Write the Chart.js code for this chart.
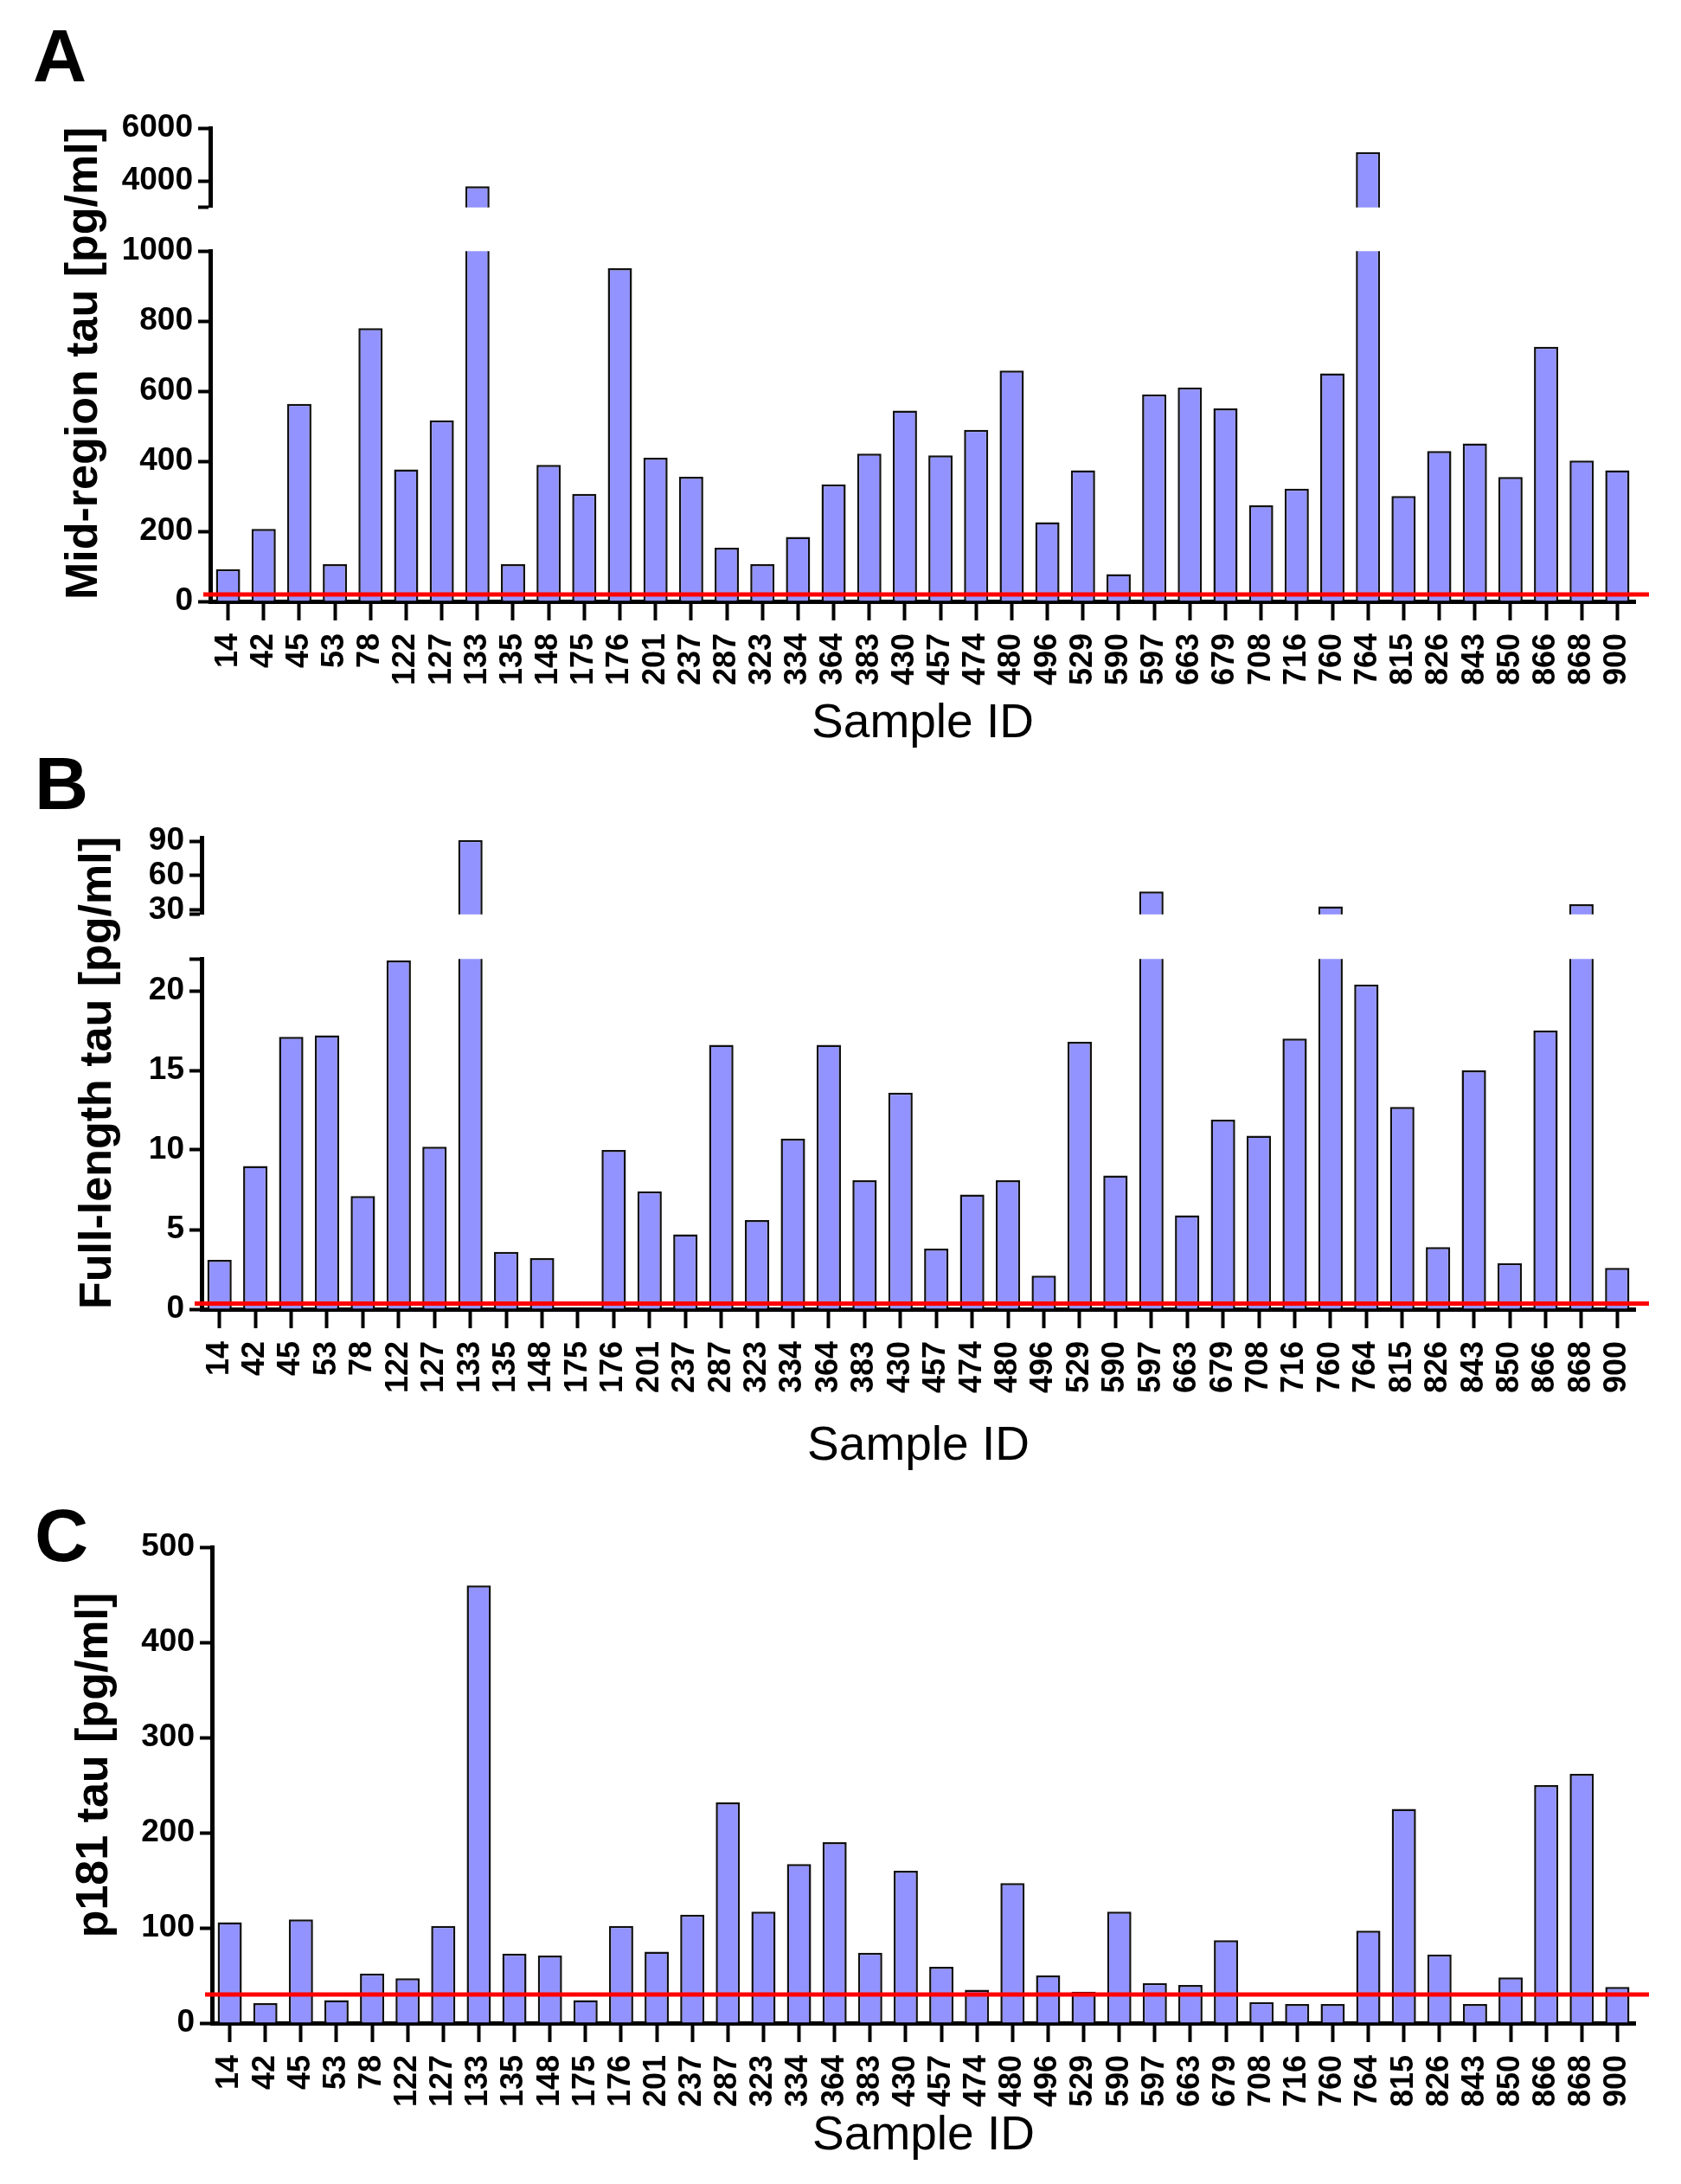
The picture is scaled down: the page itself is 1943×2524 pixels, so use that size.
<!DOCTYPE html>
<html>
  <head>
    <title>Tau levels per sample</title>
    <script src="https://cdn.jsdelivr.net/npm/chart.js@4.4.0/dist/chart.umd.min.js"></script>
    <style>
      body {
        margin: 0;
        background: #fff;
        font-family: "Liberation Sans", Arial, sans-serif;
      }

      #page {
        position: relative;
        width: 1943px;
        height: 2524px;
      }

      canvas {
        position: absolute;
        left: 0;
      }

      .letter {
        position: absolute;
        font-weight: bold;
        font-size: 86px;
        line-height: 1;
      }

      .ytitle {
        position: absolute;
        font-weight: bold;
        font-size: 52px;
        line-height: 1;
        white-space: nowrap;
        transform: translate(-50%, -50%) rotate(-90deg);
      }
    </style>
  </head>
  <body>
    <div id="page">
      <div class="letter" style="left: 38px; top: 21px">A</div>
      <div class="letter" style="left: 40px; top: 862px">B</div>
      <div class="letter" style="left: 40px; top: 1731px">C</div>

      <div class="ytitle" style="left: 94px; top: 420px">Mid-region tau [pg/ml]</div>
      <div class="ytitle" style="left: 110px; top: 1240px">Full-length tau [pg/ml]</div>
      <div class="ytitle" style="left: 106px; top: 2040px">p181 tau [pg/ml]</div>

      <canvas id="a-top" width="1943" height="148" style="top: 120px"></canvas>
      <canvas id="a-bottom" width="1943" height="612" style="top: 262px"></canvas>
      <canvas id="b-top" width="1943" height="145" style="top: 940px"></canvas>
      <canvas id="b-bottom" width="1943" height="629" style="top: 1080px"></canvas>
      <canvas id="c-main" width="1943" height="746" style="top: 1760px"></canvas>
    </div>

    <script>
      const samples = [
        "14", "42", "45", "53", "78", "122", "127", "133", "135", "148",
        "175", "176", "201", "237", "287", "323", "334", "364", "383", "430",
        "457", "474", "480", "496", "529", "590", "597", "663", "679", "708",
        "716", "760", "764", "815", "826", "843", "850", "866", "868", "900",
      ];

      const midRegionTau = [
        92, 207, 564, 106, 780, 377, 517, 3800, 106, 390,
        307, 951, 410, 356, 153, 106, 184, 334, 422, 545,
        417, 490, 659, 226, 374, 78, 591, 611, 551, 274,
        322, 651, 5100, 301, 429, 451, 355, 727, 402, 374,
      ];

      const fullLengthTau = [
        3.1, 9.0, 17.1, 17.2, 7.1, 21.9, 10.2, 91, 3.6, 3.2,
        null, 10.0, 7.4, 4.7, 16.6, 5.6, 10.7, 16.6, 8.1, 13.6,
        3.8, 7.2, 8.1, 2.1, 16.8, 8.4, 46, 5.9, 11.9, 10.9,
        17.0, 33, 20.4, 12.7, 3.9, 15.0, 2.9, 17.5, 35, 2.6,
      ];

      const p181Tau = [
        106, 21, 109, 24, 52, 47, 102, 460, 73, 71,
        24, 102, 75, 114, 232, 117, 167, 190, 74, 160,
        59, 35, 147, 50, 33, 117, 42, 40, 87, 22,
        20, 20, 97, 225, 72, 20, 48, 250, 262, 38,
      ];

      // cut-off lines (red)
      const cutoffMid = 20;
      const cutoffFull = 0.35;
      const cutoffP181 = 30;

      // tick values per axis piece; the unlabeled ones mark the breaks
      const midTopTicks = [3000, 4000, 6000];
      const midTopLabels = [4000, 6000];
      const midLowTicks = [0, 200, 400, 600, 800, 1000];
      const fullTopTicks = [26, 30, 60, 90];
      const fullTopLabels = [30, 60, 90];
      const fullLowTicks = [0, 5, 10, 15, 20, 22];
      const fullLowLabels = [0, 5, 10, 15, 20];
      const p181Ticks = [0, 100, 200, 300, 400, 500];

      const FONT = "'Liberation Sans', Arial, sans-serif";
      const BAR_FILL = "#9393ff";

      const cutoffLine = {
        id: "cutoffLine",
        afterDraw(chart, args, opts) {
          if (opts.value == null) return;
          const y = chart.scales.y.getPixelForValue(opts.value);
          const area = chart.chartArea;
          const ctx = chart.ctx;
          ctx.save();
          ctx.strokeStyle = "#ff0000";
          ctx.lineWidth = 5;
          ctx.beginPath();
          ctx.moveTo(area.left - 8, y);
          ctx.lineTo(area.right + 16, y);
          ctx.stroke();
          ctx.restore();
        },
      };

      function makePanel(canvasId, values, cfg) {
        return new Chart(canvasId, {
          type: "bar",
          data: {
            labels: samples,
            datasets: [
              {
                data: values,
                backgroundColor: BAR_FILL,
                borderColor: "#111",
                borderWidth: 2.5,
                clip: 0,
                categoryPercentage: 1,
                barPercentage: 0.68,
              },
            ],
          },
          options: {
            responsive: false,
            devicePixelRatio: 1,
            animation: false,
            layout: {
              padding: { left: 0, right: 53, top: cfg.padTop, bottom: 0 },
            },
            plugins: {
              legend: { display: false },
              tooltip: { enabled: false },
              cutoffLine: { value: cfg.cutoff },
            },
            scales: {
              x: {
                display: cfg.showX,
                offset: true,
                z: 1,
                grid: {
                  offset: false,
                  drawOnChartArea: false,
                  tickLength: 22,
                  tickWidth: 4,
                  tickColor: "#000",
                },
                border: { color: "#000", width: 5 },
                ticks: {
                  color: "#000",
                  font: { family: FONT, size: 36, weight: "bold" },
                  minRotation: 90,
                  maxRotation: 90,
                  autoSkip: false,
                  padding: 15,
                },
                title: {
                  display: true,
                  text: "Sample ID",
                  color: "#000",
                  font: { family: FONT, size: 55 },
                  padding: { top: 0, bottom: 4 },
                },
                afterFit: (scale) => {
                  scale.height = cfg.xHeight || 0;
                },
              },
              y: {
                min: cfg.min,
                max: cfg.max,
                z: 1,
                afterBuildTicks: (scale) => {
                  scale.ticks = cfg.ticks.map((v) => ({ value: v }));
                },
                ticks: {
                  color: "#000",
                  font: { family: FONT, size: 37, weight: "bold" },
                  padding: 6,
                  autoSkip: false,
                  callback: (v) => (cfg.labels.includes(v) ? String(v) : ""),
                },
                grid: {
                  drawOnChartArea: false,
                  tickLength: 14,
                  tickWidth: 4,
                  tickColor: "#000",
                },
                border: { color: "#000", width: 5 },
                afterFit: (scale) => {
                  scale.width = cfg.left;
                },
              },
            },
          },
          plugins: [cutoffLine],
        });
      }

      // A: mid-region tau, broken axis
      makePanel("a-top", midRegionTau, {
        min: 3000, max: 6000, ticks: midTopTicks, labels: midTopLabels,
        left: 243, padTop: 22, showX: false,
      });
      makePanel("a-bottom", midRegionTau, {
        min: 0, max: 1000, ticks: midLowTicks, labels: midLowTicks,
        left: 243, padTop: 23, showX: true, xHeight: 179, cutoff: cutoffMid,
      });

      // B: full-length tau, broken axis
      makePanel("b-top", fullLengthTau, {
        min: 26, max: 93, ticks: fullTopTicks, labels: fullTopLabels,
        left: 233, padTop: 22, showX: false,
      });
      makePanel("b-bottom", fullLengthTau, {
        min: 0, max: 22, ticks: fullLowTicks, labels: fullLowLabels,
        left: 233, padTop: 23, showX: true, xHeight: 196, cutoff: cutoffFull,
      });

      // C: p181 tau
      makePanel("c-main", p181Tau, {
        min: 0, max: 500, ticks: p181Ticks, labels: p181Ticks,
        left: 245, padTop: 27, showX: true, xHeight: 168, cutoff: cutoffP181,
      });
    </script>
  </body>
</html>
